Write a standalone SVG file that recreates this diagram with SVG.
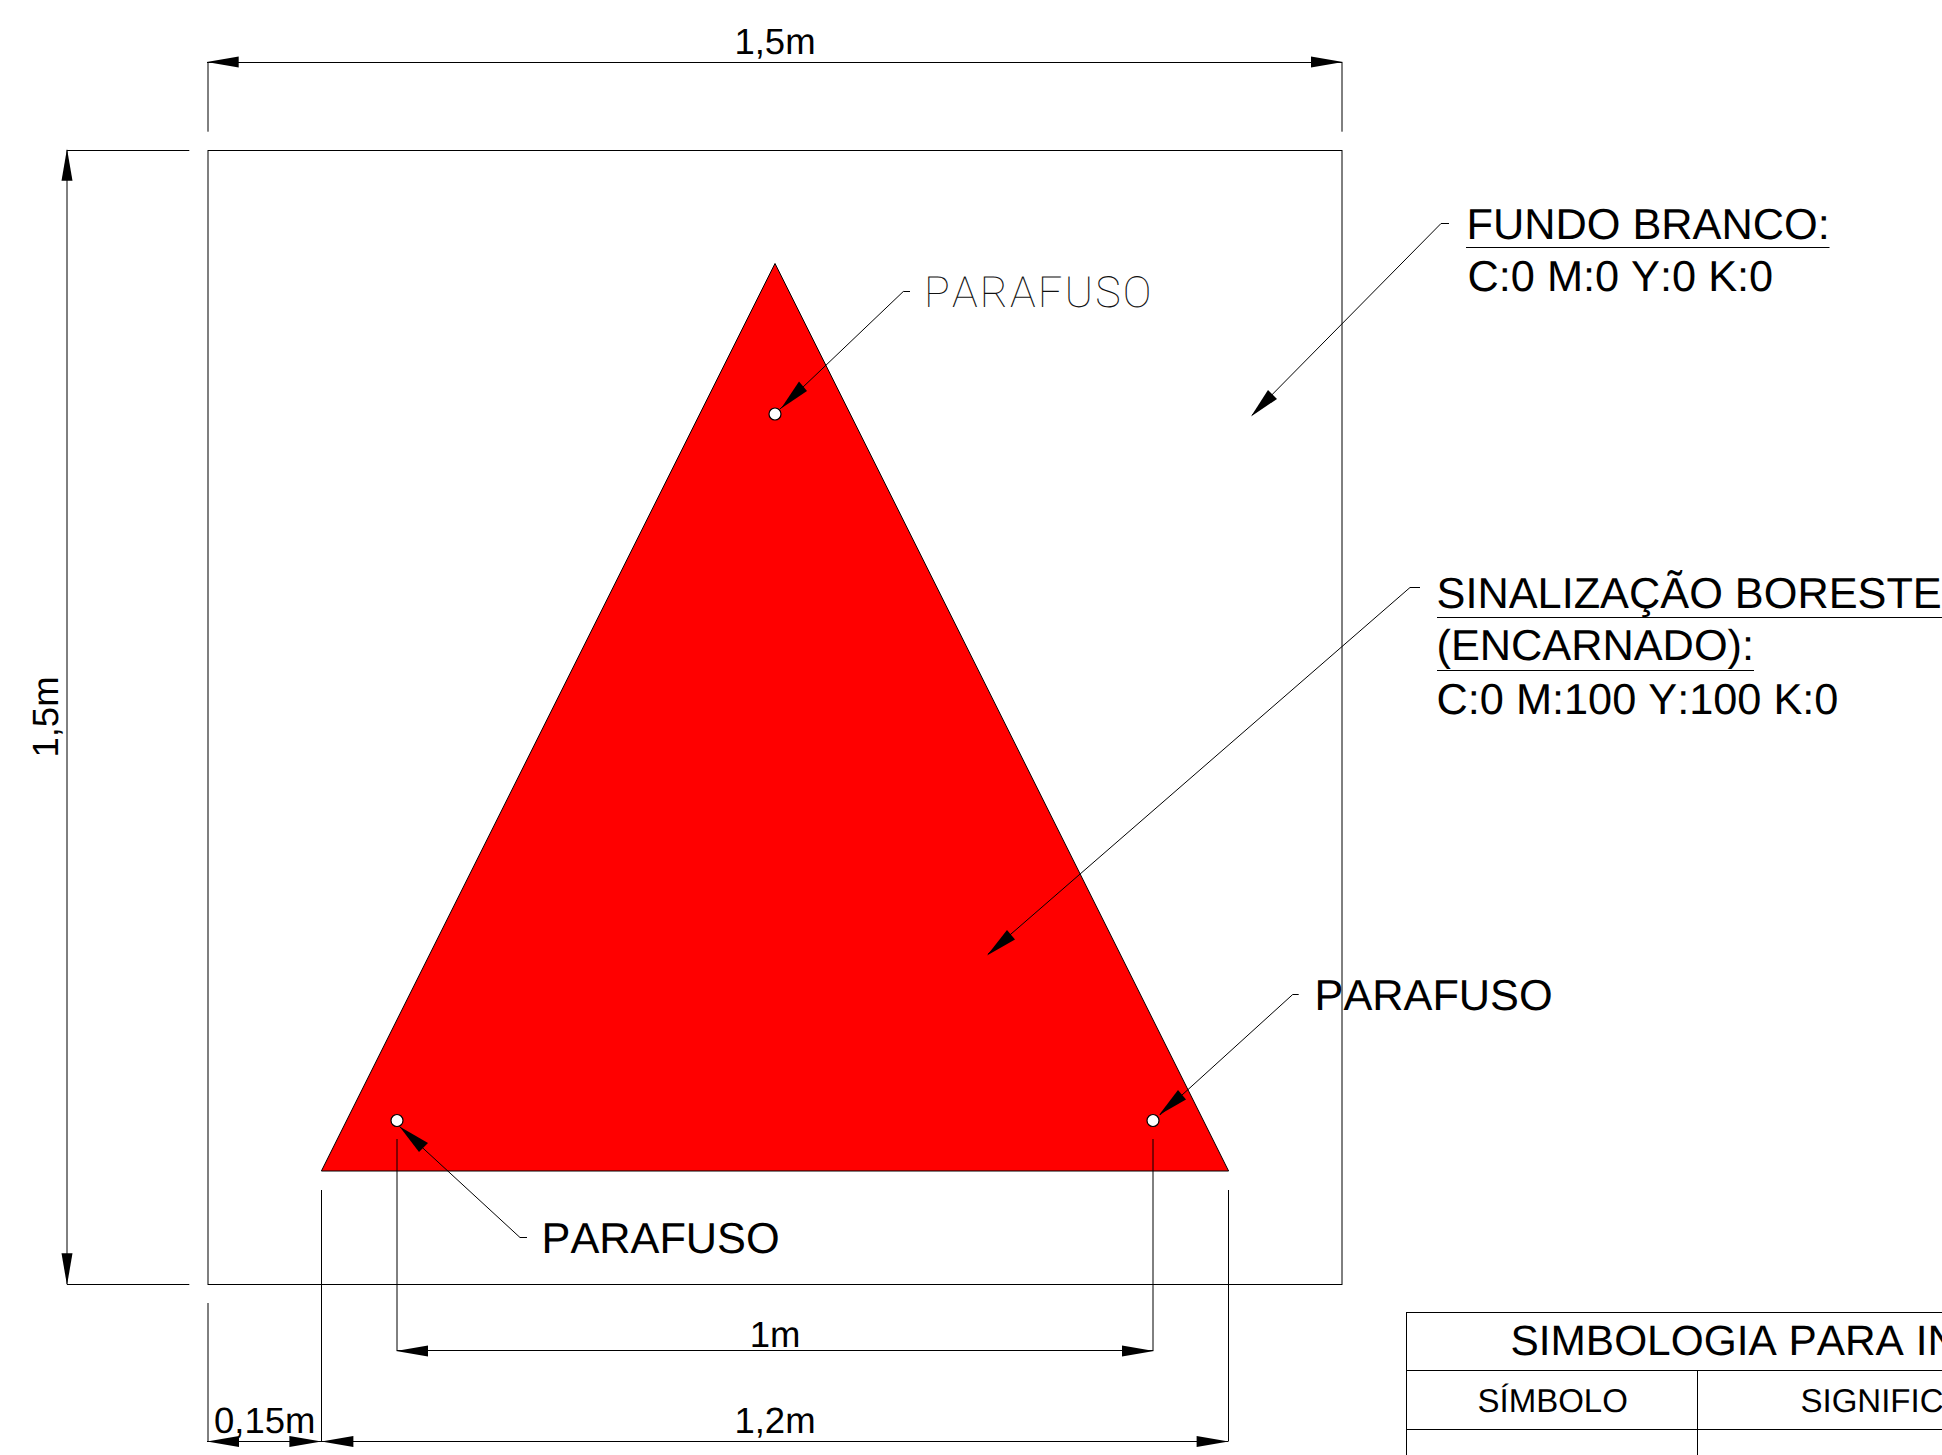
<svg xmlns="http://www.w3.org/2000/svg" width="1942" height="1455" viewBox="0 0 1942 1455">
<style>
.l{fill:none;stroke:#000;stroke-width:1}
.a{fill:#000;stroke:none}
.t{font-family:"Liberation Sans",Arial,sans-serif;fill:#000;font-kerning:none;text-rendering:geometricPrecision}
.f43{font-size:43.3px}
.f42{font-size:42.4px}
.f36{font-size:36.5px}
.f33{font-size:33px}
.s{fill:#fff;stroke:#000;stroke-width:1.2}
.thin{font-family:"Roboto","Inter",sans-serif;font-weight:100;font-size:43px;fill:#111;font-kerning:none;letter-spacing:2.1px;text-rendering:geometricPrecision}
</style>
<rect width="1942" height="1455" fill="#fff"/>
<g id="sheet"><rect class="l" x="208" y="150.5" width="1134" height="1134"/></g>
<g id="triangle"><polygon points="775,263.5 1228.6,1171 321.4,1171" fill="#f00" stroke="#000" stroke-width="1"/></g>
<g id="screws">
<circle class="s" cx="775" cy="414" r="6"/>
<circle class="s" cx="397" cy="1120.5" r="6"/>
<circle class="s" cx="1153" cy="1120.5" r="6"/>
</g>
<g id="connectors">
<path class="l" d="M208 131.7V62M1342 131.7V62"/>
<path class="l" d="M207 62.5H1342"/>
<polygon class="a" points="206.7,62 238.7,56.5 238.7,67.5"/>
<polygon class="a" points="1343,62 1311,56.5 1311,67.5"/>
<path class="l" d="M67 150.5H189.3M67 1284.5H189.3M67 150V1284"/>
<polygon class="a" points="67,148.7 61.5,180.7 72.5,180.7"/>
<polygon class="a" points="67,1285.3 61.5,1253.3 72.5,1253.3"/>
<path class="l" d="M208 1303V1441M321.5 1190V1441M1228.5 1190V1441M397 1139V1351M1153 1139V1351"/>
<path class="l" d="M397 1350.5H1153M207 1441.5H1228.5"/>
<polygon class="a" points="396,1351 428,1345.5 428,1356.5"/>
<polygon class="a" points="1154,1351 1122,1345.5 1122,1356.5"/>
<polygon class="a" points="207,1441.5 239,1436 239,1447"/>
<polygon class="a" points="321.4,1441.5 289.4,1436 289.4,1447"/>
<polygon class="a" points="321.4,1441.5 353.4,1436 353.4,1447"/>
<polygon class="a" points="1228.6,1441.5 1196.6,1436 1196.6,1447"/>
<path class="l" d="M910 291.5H903.3L780 409"/>
<polygon class="a" points="781,408.5 799,381.5 807,391"/>
<path class="l" d="M1298.7 994.5H1292.7L1160 1115"/>
<polygon class="a" points="1159,1115 1178,1090 1186,1099.5"/>
<path class="l" d="M527 1237.5H520L400 1127"/>
<polygon class="a" points="399.5,1126.5 428,1143 419,1152"/>
<path class="l" d="M1449 223.5H1441L1252 415"/>
<polygon class="a" points="1251,416.5 1268,390 1277,399"/>
<path class="l" d="M1420 587.5H1410L988 954"/>
<polygon class="a" points="987,955.5 1007,930 1015,939.5"/>
</g>
<g id="dim-labels">
<text class="t f36" x="775" y="53.5" text-anchor="middle">1,5m</text>
<text class="t f36" transform="translate(58 717) rotate(-90)" text-anchor="middle">1,5m</text>
<text class="t f36" x="775" y="1347" text-anchor="middle">1m</text>
<text class="t f36" x="775" y="1432.7" text-anchor="middle">1,2m</text>
<text class="t f36" x="214" y="1432.7">0,15m</text>
</g>
<g id="label-parafuso-top"><text class="thin" x="924" y="307">PARAFUSO</text></g>
<g id="label-parafuso-right"><text class="t f43" x="1314.5" y="1010">PARAFUSO</text></g>
<g id="label-parafuso-left"><text class="t f43" x="541.5" y="1253">PARAFUSO</text></g>
<g id="label-fundo">
<text class="t f43" x="1466.5" y="239">FUNDO BRANCO:</text>
<path class="l" d="M1466 247.5H1829.5"/>
<text class="t f43" x="1467.5" y="291">C:0 M:0 Y:0 K:0</text>
</g>
<g id="label-sinal">
<text class="t f43" x="1436.5" y="608">SINALIZAÇÃO BORESTE</text>
<path class="l" d="M1437 617.5H1942"/>
<text class="t f43" x="1436.5" y="659.5">(ENCARNADO):</text>
<path class="l" d="M1437 670.5H1754"/>
<text class="t f43" x="1436.5" y="714">C:0 M:100 Y:100 K:0</text>
</g>
<g id="table">
<path class="l" d="M1406.5 1312.5H1942M1406.5 1370.5H1942M1406.5 1429.5H1942M1406.5 1312V1455M1697.5 1370.5V1455"/>
<text class="t f42" x="1510.5" y="1355">SIMBOLOGIA PARA INS</text>
<text class="t f33" x="1477.5" y="1412">SÍMBOLO</text>
<text class="t f33" x="1800.5" y="1412">SIGNIFICA</text>
</g>
</svg>
